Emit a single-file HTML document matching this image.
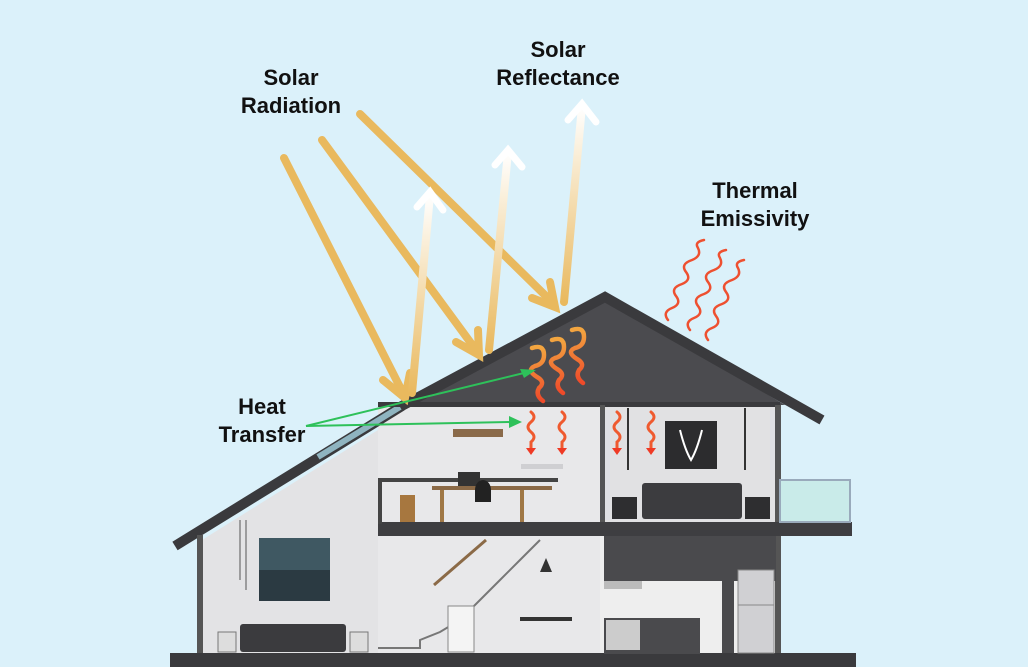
<!DOCTYPE html>
<html><head><meta charset="utf-8"><style>
html,body{margin:0;padding:0;background:#dbf1fa;}
svg{display:block}
text{font-family:"Liberation Sans",sans-serif;font-weight:bold;font-size:22px;fill:#111;text-anchor:middle}
</style></head><body>
<svg width="1028" height="667" viewBox="0 0 1028 667" xmlns="http://www.w3.org/2000/svg">
<defs>
<linearGradient id="g1" x1="0" y1="1" x2="0" y2="0"><stop offset="0" stop-color="#e9b95e"/><stop offset="1" stop-color="#ffffff"/></linearGradient>
<linearGradient id="wv" x1="0" y1="0" x2="0" y2="1"><stop offset="0" stop-color="#f3a640"/><stop offset="1" stop-color="#ee4a2a"/></linearGradient>
</defs>
<rect width="1028" height="667" fill="#dbf1fa"/>
<polygon points="202,540 378,430 378,655 202,655" fill="#e3e3e5"/>
<rect x="378" y="405" width="402" height="250" fill="#e8e8ea"/>
<rect x="600" y="405" width="180" height="120" fill="#e1e1e3"/>
<rect x="600" y="535" width="180" height="120" fill="#eeeeee"/>
<polygon points="605,298 412,405 785,405" fill="#4b4b4f"/>
<polyline points="398,408 605,297 822,420" fill="none" stroke="#3a3a3d" stroke-width="10"/>
<line x1="402" y1="406" x2="175" y2="546" stroke="#3a3a3d" stroke-width="10"/>
<line x1="400" y1="407" x2="318" y2="457" stroke="#8fb4c0" stroke-width="6"/>
<rect x="378" y="402" width="402" height="5" fill="#3a3a3d"/>
<rect x="775" y="405" width="6" height="250" fill="#555"/>
<rect x="600" y="405" width="5" height="120" fill="#555"/>
<rect x="197" y="535" width="6" height="120" fill="#555"/>
<rect x="378" y="522" width="474" height="14" fill="#3e3e41"/>
<rect x="378" y="480" width="4" height="44" fill="#444"/>
<rect x="378" y="478" width="180" height="4" fill="#444"/>
<rect x="780" y="480" width="70" height="42" fill="#c9ebe9" stroke="#9ab" stroke-width="2"/>
<rect x="170" y="653" width="686" height="14" fill="#3a3a3d"/>
<rect x="453" y="429" width="50" height="8" fill="#8a6a4a"/>
<rect x="521" y="464" width="42" height="5" fill="#cfcfd2"/>
<rect x="400" y="495" width="15" height="27" fill="#a7773f"/>
<rect x="432" y="486" width="120" height="4" fill="#8b6a47"/>
<rect x="458" y="472" width="22" height="14" fill="#333"/>
<path d="M475 490 a8 10 0 0 1 16 0 v12 h-16z" fill="#222"/>
<rect x="440" y="490" width="4" height="32" fill="#a07846"/><rect x="520" y="490" width="4" height="32" fill="#a07846"/>
<rect x="665" y="421" width="52" height="48" fill="#2c2c2e"/>
<path d="M680 430 q5 20 11 30 q6 -10 11 -30" stroke="#fff" stroke-width="2" fill="none"/>
<rect x="642" y="483" width="100" height="36" rx="3" fill="#3c3c3f"/>
<rect x="612" y="497" width="25" height="22" fill="#2e2e30"/>
<rect x="745" y="497" width="25" height="22" fill="#2e2e30"/>
<line x1="628" y1="408" x2="628" y2="470" stroke="#333" stroke-width="2"/>
<line x1="745" y1="408" x2="745" y2="470" stroke="#333" stroke-width="2"/>
<rect x="259" y="538" width="71" height="63" fill="#3f5862"/>
<rect x="259" y="570" width="71" height="31" fill="#2b3a42"/>
<line x1="240" y1="520" x2="240" y2="580" stroke="#555"/><line x1="246" y1="520" x2="246" y2="590" stroke="#555"/>
<rect x="240" y="624" width="106" height="28" rx="3" fill="#3b3b3e"/>
<rect x="218" y="632" width="18" height="20" fill="#ddd" stroke="#777"/>
<rect x="350" y="632" width="18" height="20" fill="#ddd" stroke="#777"/>
<polyline points="378,648 420,648 420,640 440,632 460,620 480,600 500,580 520,560 540,540" fill="none" stroke="#777" stroke-width="2"/>
<line x1="434" y1="585" x2="486" y2="540" stroke="#8b6a47" stroke-width="3"/>
<rect x="448" y="606" width="26" height="46" fill="#f4f4f4" stroke="#888"/>
<rect x="520" y="617" width="52" height="4" fill="#333"/>
<path d="M546 558 l-6 14 h12z" fill="#333"/>
<rect x="604" y="536" width="172" height="45" fill="#4a4a4d"/>
<rect x="604" y="581" width="38" height="8" fill="#bbb"/>
<rect x="604" y="618" width="96" height="36" fill="#4a4a4d"/>
<rect x="606" y="620" width="34" height="30" fill="#ccc"/>
<rect x="722" y="560" width="12" height="93" fill="#4a4a4d"/>
<rect x="738" y="570" width="36" height="83" fill="#d0d0d3" stroke="#888"/>
<line x1="738" y1="605" x2="774" y2="605" stroke="#888"/>
<g stroke="#e9b95e" stroke-width="8" stroke-linecap="round" fill="none">
<line x1="284" y1="158" x2="403" y2="393"/>
<polyline points="383,380 405,398 410,373"/>
<line x1="322" y1="140" x2="476" y2="350"/>
<polyline points="456,342 479,355 478,330"/>
<line x1="360" y1="114" x2="552" y2="302"/>
<polyline points="532,298 555,307 550,282"/>
</g>
<g stroke="url(#g1)" stroke-width="8" stroke-linecap="round" fill="none">
<path d="M412 393 L430 195"/>
<path d="M489 350 L508 152"/>
<path d="M564 302 L582 106"/>
</g>
<g stroke="#fff" stroke-width="7" stroke-linecap="round" fill="none">
<polyline points="417,207 430,192 443,210"/>
<polyline points="495,165 508,150 522,167"/>
<polyline points="568,120 582,104 596,122"/>
</g>
<g fill="none" stroke="url(#wv)" stroke-width="4.5" stroke-linecap="round">
<path d="M532 348 q12 -4 12 7 q0 9 -9 11 q-9 4 2 11 q9 5 2 11 q-4 7 4 13"/>
<path d="M552 340 q12 -4 12 7 q0 9 -9 11 q-9 4 2 11 q9 5 2 11 q-4 7 4 13"/>
<path d="M572 330 q12 -4 12 7 q0 9 -9 11 q-9 4 2 11 q9 5 2 11 q-4 7 4 13"/>
</g>
<g fill="none" stroke="#ef5a2f" stroke-width="3" stroke-linecap="round">
<path d="M531 412 q6 5 0 10 q-6 5 0 10 q6 5 0 10 l0 8"/>
<path d="M562 412 q6 5 0 10 q-6 5 0 10 q6 5 0 10 l0 8"/>
<path d="M617 412 q6 5 0 10 q-6 5 0 10 q6 5 0 10 l0 8"/>
<path d="M651 412 q6 5 0 10 q-6 5 0 10 q6 5 0 10 l0 8"/>
</g>
<g fill="#ef3a25"><path d="M526 448 l5 7 l5 -7z"/><path d="M557 448 l5 7 l5 -7z"/><path d="M612 448 l5 7 l5 -7z"/><path d="M646 448 l5 7 l5 -7z"/></g>
<g fill="none" stroke="#ee5030" stroke-width="2.5" stroke-linecap="round">
<path d="M668 320 q-6 -8 4 -12 q10 -4 4 -12 q-6 -8 6 -12 q10 -4 4 -12 q-6 -8 6 -12 q10 -4 6 -12 q-4 -6 6 -8"/>
<path d="M690 330 q-6 -8 4 -12 q10 -4 4 -12 q-6 -8 6 -12 q10 -4 4 -12 q-6 -8 6 -12 q10 -4 6 -12 q-4 -6 6 -8"/>
<path d="M708 340 q-6 -8 4 -12 q10 -4 4 -12 q-6 -8 6 -12 q10 -4 4 -12 q-6 -8 6 -12 q10 -4 6 -12 q-4 -6 6 -8"/>
</g>
<g stroke="#2ec15a" stroke-width="2" fill="#2ec15a">
<line x1="306" y1="426" x2="528" y2="372"/>
<line x1="306" y1="426" x2="512" y2="422"/>
<polygon points="536,370 520,369 524,378" stroke="none"/>
<polygon points="522,422 509,416 509,428" stroke="none"/>
</g>
<text x="291" y="85">Solar</text><text x="291" y="113">Radiation</text>
<text x="558" y="57">Solar</text><text x="558" y="85">Reflectance</text>
<text x="755" y="198">Thermal</text><text x="755" y="226">Emissivity</text>
<text x="262" y="414">Heat</text><text x="262" y="442">Transfer</text>
</svg>
</body></html>
